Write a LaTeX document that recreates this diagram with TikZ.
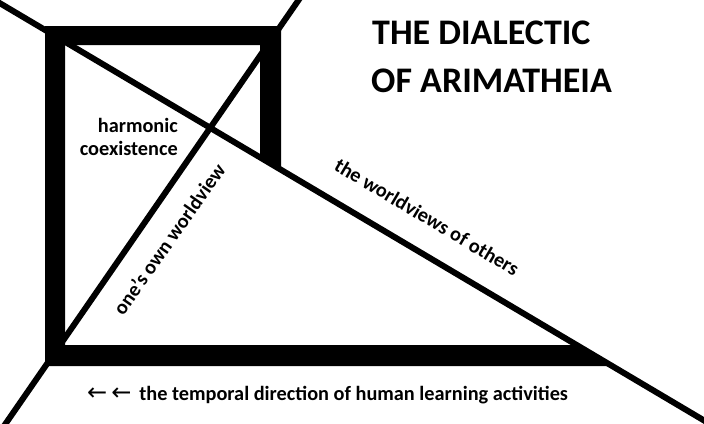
\documentclass[tikz,border=0pt]{standalone}
\usepackage{fontspec}
\setmainfont{Carlito}
\newfontfamily\arrowfont{DejaVu Sans}
\begin{document}
\begin{tikzpicture}[x=1pt,y=-1pt,
  thinline/.style={line width=6pt},
  lbl/.style={font=\bfseries\fontsize{20.3}{23}\selectfont, inner sep=0pt},
  titlefont/.style={font=\bfseries\fontsize{36}{48}\selectfont, inner sep=0pt}]
\useasboundingbox (0,0) rectangle (704,423);
% lines
\coordinate (l1a) at (-4,0.9);
\coordinate (l1b) at (712,425.2);
\coordinate (l2a) at (4,426);
\coordinate (l2b) at (300,-2);
\draw[thinline] (l1a) -- (l1b);
\draw[thinline] (l2a) -- (l2b);
% thick frame
\fill (45,366) -- (45,26) -- (281,26) -- (281,169.5) -- (260,157) -- (260,45)
  -- (65,45) -- (65,345) -- (577,345) -- (612,366) -- cycle;
% title
\node[titlefont, anchor=base west] (t1) at (372,44) {THE DIALECTIC};
\node[titlefont, anchor=base west] (t2) at (371,92) {OF ARIMATHEIA};
% labels
\node[lbl, anchor=base east] (h1) at (178,132) {harmonic};
\node[lbl, anchor=base east] (h2) at (178,155) {coexistence};
\node[lbl, rotate=54.9] (own) at (169,239) {one's own worldview};
\node[lbl, rotate=-30.66] (others) at (427,217) {the worldviews of others};
\node[lbl, anchor=base west] (time) at (87,400) {{\arrowfont\mdseries\fontsize{24}{24}\selectfont ←\,←}\, the temporal direction of human learning activities};
\end{tikzpicture}
\end{document}
